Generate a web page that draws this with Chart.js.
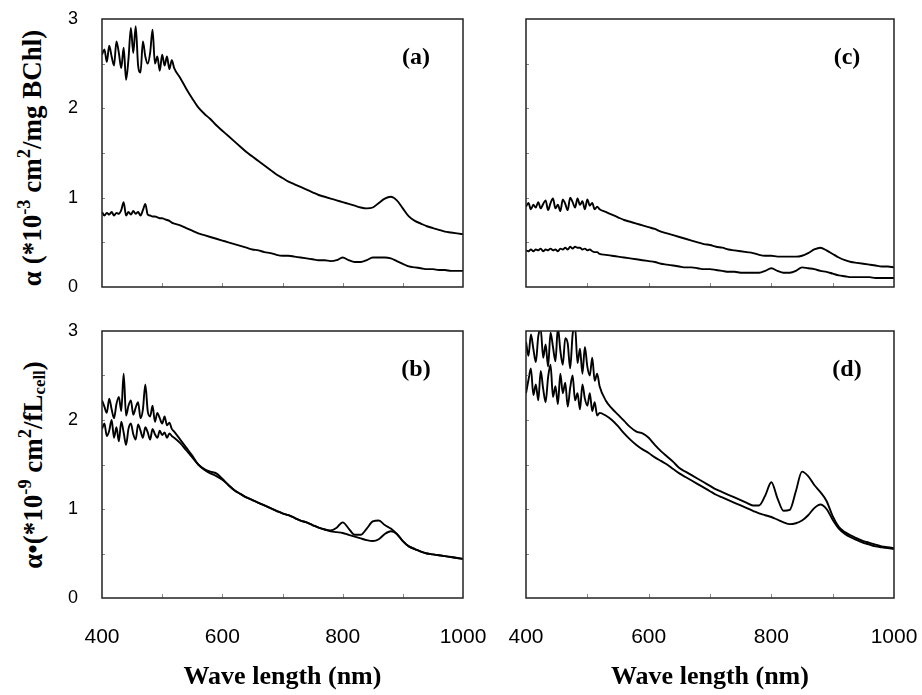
<!DOCTYPE html>
<html>
<head>
<meta charset="utf-8">
<script src="https://cdn.jsdelivr.net/npm/chart.js@4.4.1/dist/chart.umd.min.js"></script>
<style>
  body { margin: 0; background: #fff; width: 922px; height: 695px; position: relative; overflow: hidden; }
  canvas { position: absolute; }
  .ytitle {
    position: absolute;
    font: bold 27px "Liberation Serif", "Times New Roman", serif;
    white-space: nowrap;
    color: #000;
    transform: translate(-50%, -50%) rotate(-90deg);
  }
  .ytitle sup { font-size: 0.68em; vertical-align: 0.55em; line-height: 0; }
  .ytitle sub { font-size: 0.62em; vertical-align: -0.2em; line-height: 0; }
</style>
</head>
<body>

<div class="ytitle" style="left:32px;top:158px">&alpha; (*10<sup>-3</sup> cm<sup>2</sup>/mg BChl)</div>
<div class="ytitle" style="left:33px;top:465px">&alpha;&bull;(*10<sup>-9</sup> cm<sup>2</sup>/fL<sub>cell</sub>)</div>

<canvas id="panelA" width="493" height="297" style="left:0;top:0"></canvas>
<canvas id="panelC" width="414" height="297" style="left:506px;top:0"></canvas>
<canvas id="panelB" width="493" height="381" style="left:0;top:312px"></canvas>
<canvas id="panelD" width="414" height="381" style="left:506px;top:312px"></canvas>

<script>
// wavelength grid (nm): dense in the noisy blue region, 10 nm after that
const wavelength = [400,404,408,412,416,420,424,428,432,436,440,444,448,452,456,460,464,468,472,476,480,484,488,492,496,500,504,508,512,516,520,
  530,540,550,560,570,580,590,600,610,620,630,640,650,660,670,680,690,700,710,720,730,740,750,760,770,780,790,800,
  810,820,830,840,850,860,870,880,890,900,910,920,930,940,950,960,970,980,990,1000];

// (a) per mg BChl
const aUpper = [2.60,2.66,2.52,2.70,2.58,2.48,2.75,2.62,2.45,2.68,2.32,2.55,2.90,2.62,2.92,2.48,2.40,2.75,2.58,2.50,2.62,2.88,2.50,2.58,2.42,2.60,2.48,2.58,2.44,2.54,2.45,
  2.34,2.22,2.11,2.01,1.94,1.88,1.81,1.75,1.69,1.63,1.57,1.51,1.46,1.41,1.36,1.31,1.26,1.22,1.18,1.15,1.12,1.09,1.06,1.03,1.01,0.99,0.97,0.95,
  0.93,0.91,0.89,0.88,0.89,0.94,0.99,1.01,0.97,0.88,0.79,0.74,0.71,0.68,0.66,0.64,0.62,0.61,0.60,0.59];
const aLower = [0.84,0.80,0.83,0.81,0.84,0.80,0.83,0.82,0.86,0.95,0.80,0.84,0.81,0.85,0.82,0.84,0.80,0.86,0.93,0.81,0.80,0.79,0.79,0.78,0.77,0.77,0.76,0.75,0.74,0.72,0.71,
  0.69,0.66,0.63,0.60,0.58,0.56,0.54,0.52,0.50,0.48,0.46,0.44,0.42,0.41,0.39,0.38,0.36,0.35,0.35,0.34,0.33,0.32,0.31,0.30,0.30,0.29,0.30,0.33,
  0.30,0.28,0.28,0.30,0.33,0.33,0.33,0.32,0.29,0.26,0.23,0.22,0.21,0.20,0.20,0.19,0.19,0.18,0.18,0.18];

// (c) per mg BChl
const cUpper = [0.90,0.94,0.87,0.92,0.89,0.95,0.88,0.93,0.97,0.86,0.94,0.99,0.88,0.92,0.85,0.98,0.93,0.86,1.00,0.95,0.89,0.99,0.92,0.96,0.87,0.98,0.91,0.94,0.87,0.90,0.87,
  0.84,0.81,0.78,0.75,0.73,0.71,0.69,0.67,0.65,0.62,0.60,0.58,0.56,0.54,0.52,0.50,0.48,0.47,0.45,0.44,0.42,0.41,0.40,0.39,0.38,0.36,0.35,0.35,
  0.34,0.34,0.34,0.34,0.35,0.38,0.42,0.44,0.41,0.37,0.33,0.30,0.28,0.27,0.26,0.25,0.24,0.23,0.23,0.22];
const cLower = [0.41,0.40,0.42,0.40,0.42,0.41,0.43,0.40,0.42,0.41,0.43,0.41,0.42,0.40,0.43,0.42,0.44,0.42,0.45,0.43,0.45,0.44,0.44,0.42,0.43,0.41,0.42,0.40,0.39,0.39,0.37,
  0.36,0.35,0.34,0.33,0.32,0.31,0.30,0.29,0.28,0.26,0.25,0.24,0.23,0.22,0.22,0.21,0.20,0.20,0.19,0.18,0.17,0.17,0.16,0.16,0.16,0.16,0.18,0.21,
  0.18,0.16,0.16,0.18,0.22,0.21,0.20,0.18,0.17,0.15,0.13,0.12,0.11,0.11,0.11,0.11,0.10,0.10,0.10,0.10];

// (b) per fL cell
const bUpper = [2.22,2.15,2.08,2.24,2.12,2.02,2.18,2.26,2.10,2.52,2.05,2.16,2.22,2.06,2.14,2.20,2.02,2.12,2.40,2.10,2.04,2.16,1.98,2.08,2.02,1.96,2.04,1.94,1.97,1.90,1.87,
  1.78,1.69,1.60,1.50,1.45,1.42,1.40,1.34,1.27,1.21,1.17,1.13,1.10,1.07,1.04,1.01,0.98,0.95,0.93,0.90,0.87,0.85,0.82,0.79,0.77,0.76,0.79,0.85,
  0.78,0.71,0.71,0.78,0.86,0.87,0.82,0.78,0.72,0.64,0.58,0.55,0.52,0.50,0.49,0.48,0.47,0.46,0.45,0.44];
const bLower = [1.90,1.96,1.82,1.88,2.00,1.80,1.92,1.76,1.98,1.86,1.72,1.90,1.96,1.84,1.78,1.95,1.88,1.80,1.92,1.86,1.78,1.90,1.84,1.80,1.88,1.83,1.86,1.80,1.85,1.82,1.80,
  1.74,1.66,1.58,1.50,1.44,1.40,1.37,1.33,1.27,1.21,1.17,1.13,1.10,1.07,1.04,1.01,0.98,0.95,0.93,0.90,0.87,0.85,0.82,0.79,0.77,0.75,0.74,0.73,
  0.71,0.69,0.67,0.65,0.64,0.66,0.72,0.75,0.72,0.64,0.58,0.55,0.52,0.50,0.49,0.48,0.47,0.46,0.45,0.44];

// (d) per fL cell
const dUpper = [2.88,2.72,2.96,2.80,2.65,2.94,3.02,2.70,2.85,2.60,2.98,2.82,2.66,3.04,2.78,2.62,2.92,2.86,2.58,2.96,3.05,2.64,2.80,2.52,2.82,2.60,2.50,2.70,2.44,2.52,2.38,
  2.22,2.13,2.06,1.99,1.92,1.87,1.85,1.80,1.72,1.65,1.59,1.53,1.46,1.42,1.38,1.34,1.30,1.26,1.22,1.19,1.16,1.13,1.10,1.07,1.04,1.04,1.15,1.30,
  1.12,0.98,0.99,1.20,1.42,1.37,1.27,1.19,1.09,0.92,0.80,0.74,0.70,0.67,0.64,0.62,0.60,0.58,0.57,0.56];
const dLower = [2.30,2.45,2.58,2.28,2.40,2.22,2.55,2.35,2.20,2.48,2.62,2.26,2.38,2.18,2.52,2.30,2.42,2.15,2.36,2.50,2.22,2.30,2.12,2.40,2.24,2.16,2.30,2.10,2.20,2.05,2.08,
  2.05,2.00,1.93,1.85,1.78,1.72,1.67,1.63,1.58,1.54,1.50,1.45,1.40,1.36,1.32,1.28,1.24,1.20,1.16,1.13,1.10,1.07,1.04,1.01,0.98,0.95,0.93,0.91,
  0.88,0.85,0.83,0.84,0.87,0.93,1.01,1.05,1.00,0.88,0.78,0.72,0.68,0.65,0.62,0.60,0.58,0.57,0.56,0.55];

const xTicks = [400, 600, 800, 1000];
const yTicks = [0, 1, 2, 3];
const xMinor = [500, 600, 700, 800, 900];
const yMinor = [0.5, 1, 1.5, 2, 2.5];

function series(ys) {
  return {
    data: wavelength.map((w, i) => ({ x: w, y: ys[i] })),
    borderColor: '#000',
    borderWidth: 1.9,
    pointRadius: 0,
    fill: false,
    cubicInterpolationMode: 'monotone'
  };
}

// box around plot, small inner ticks and the panel letter
const frame = {
  id: 'frame',
  afterDatasetsDraw(chart, args, opts) {
    const { ctx, chartArea: a, scales } = chart;
    ctx.save();
    ctx.strokeStyle = '#888';
    ctx.lineWidth = 1;
    ctx.beginPath();
    xMinor.forEach(v => {
      const px = Math.round(scales.x.getPixelForValue(v)) + 0.5;
      ctx.moveTo(px, a.bottom); ctx.lineTo(px, a.bottom - 4);
    });
    yMinor.forEach(v => {
      const py = Math.round(scales.y.getPixelForValue(v)) + 0.5;
      ctx.moveTo(a.left, py); ctx.lineTo(a.left + 3, py);
    });
    ctx.stroke();
    ctx.strokeStyle = '#222';
    ctx.lineWidth = 1.5;
    ctx.strokeRect(a.left, a.top, a.right - a.left, a.bottom - a.top);
    ctx.fillStyle = '#000';
    ctx.font = 'bold 24px "Liberation Serif", "Times New Roman", serif';
    ctx.textAlign = 'center';
    ctx.textBaseline = 'middle';
    ctx.fillText(opts.label, a.right - 47, a.top + 39);
    ctx.restore();
  }
};

// fixed axis sizes; tick labels may overhang into the canvas margins
function fixSize(prop, size) {
  return s => {
    s[prop] = size;
    s.paddingTop = 0; s.paddingBottom = 0; s.paddingLeft = 0; s.paddingRight = 0;
  };
}

function makePanel(id, upper, lower, label, showX, showY) {
  new Chart(document.getElementById(id), {
    type: 'line',
    data: { datasets: [series(upper), series(lower)] },
    options: {
      responsive: false,
      animation: false,
      layout: { padding: { top: 19, right: showY ? 30 : 26, left: 0, bottom: 0 } },
      plugins: {
        legend: { display: false },
        tooltip: { enabled: false },
        frame: { label: label }
      },
      scales: {
        x: {
          type: 'linear', min: 400, max: 1000,
          afterBuildTicks: s => { s.ticks = xTicks.map(v => ({ value: v })); },
          ticks: {
            display: showX, color: '#000', padding: 19, maxRotation: 0, autoSkip: false,
            callback: v => String(v),
            font: { family: '"Liberation Sans", Arial, sans-serif', size: 21 }
          },
          grid: { display: false },
          border: { display: false },
          title: {
            display: showX, text: 'Wave length (nm)', color: '#000', padding: 0,
            font: { family: '"Liberation Serif", "Times New Roman", serif', size: 26, weight: 'bold' }
          },
          afterFit: fixSize('height', showX ? 95 : 10)
        },
        y: {
          type: 'linear', min: 0, max: 3,
          afterBuildTicks: s => { s.ticks = yTicks.map(v => ({ value: v })); },
          ticks: {
            display: showY, color: '#000', padding: 16,
            callback: v => String(v),
            font: { family: '"Liberation Sans", Arial, sans-serif', size: 18 }
          },
          grid: { display: false },
          border: { display: false },
          afterFit: fixSize('width', showY ? 102 : 20)
        }
      }
    },
    plugins: [frame]
  });
}

makePanel('panelA', aUpper, aLower, '(a)', false, true);
makePanel('panelC', cUpper, cLower, '(c)', false, false);
makePanel('panelB', bUpper, bLower, '(b)', true, true);
makePanel('panelD', dUpper, dLower, '(d)', true, false);
</script>
</body>
</html>
